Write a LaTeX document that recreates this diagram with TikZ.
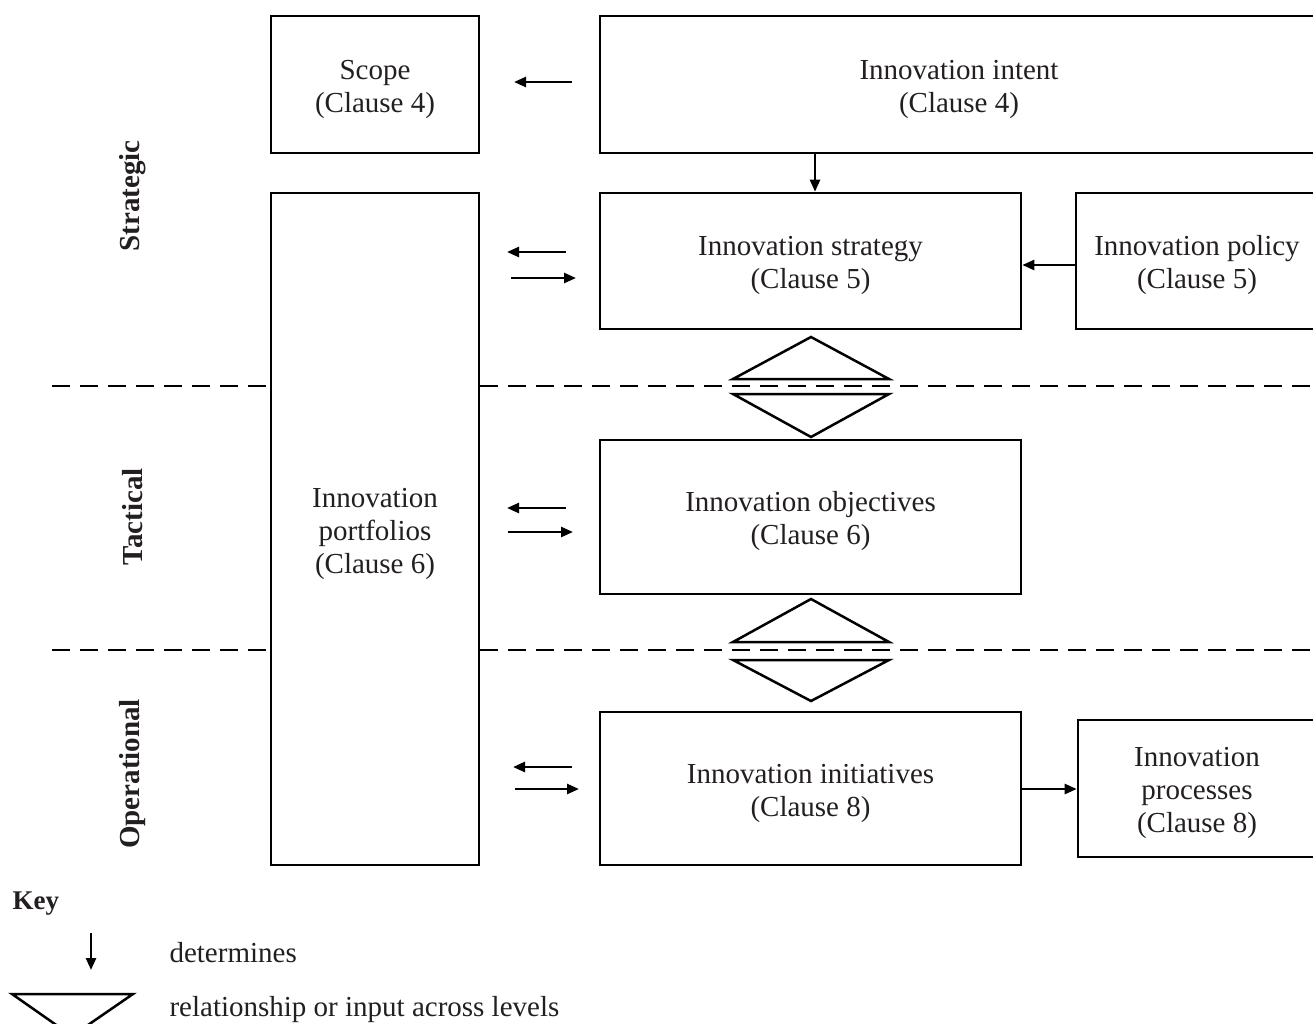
\documentclass[tikz,border=0pt]{standalone}
\usepackage{fontspec}
\setmainfont{Liberation Serif}
\usetikzlibrary{arrows.meta}
\definecolor{txt}{HTML}{231F20}
\begin{document}
\begin{tikzpicture}[x=1pt,y=-1pt,
  box/.style={draw, line width=2.6pt, inner sep=0pt},
  btext/.style={align=center, inner sep=0pt, text=txt, yshift=-4.5pt,
    font=\fontsize{29}{33}\selectfont},
  arr/.style={line width=2.5pt, -{Triangle[length=12pt,width=10pt]}},
  lev/.style={rotate=90, font=\fontsize{29}{32}\selectfont\bfseries, text=txt},
  lbl/.style={font=\fontsize{29}{33}\selectfont, text=txt, anchor=west},
  levelline/.style={line width=2.4pt, dash pattern=on 18pt off 10pt},
  tri/.style={line width=2.5pt, line join=miter}]
\useasboundingbox (0,0) rectangle (1313,1023);
\clip (0,0) rectangle (1313,1023);

% boxes
\node[box, minimum width=208pt, minimum height=137pt] (scope) at (375,84.5) {};
\node[btext] (scope-t) at (scope.center) {Scope\\(Clause 4)};
\node[box, minimum width=720pt, minimum height=137pt] (intent) at (960,84.5) {};
\node[btext] (intent-t) at (959,84.5) {Innovation intent\\(Clause 4)};
\node[box, minimum width=208pt, minimum height=672pt] (portf) at (375,529) {};
\node[btext] (portf-t) at (portf.center) {Innovation\\portfolios\\(Clause 6)};
\node[box, minimum width=421pt, minimum height=136pt] (strat) at (810.5,261) {};
\node[btext] (strat-t) at (strat.center) {Innovation strategy\\(Clause 5)};
\node[box, minimum width=242pt, minimum height=136pt] (policy) at (1197,261) {};
\node[btext] (policy-t) at (policy.center) {Innovation policy\\(Clause 5)};
\node[box, minimum width=421pt, minimum height=154pt] (obj) at (810.5,517) {};
\node[btext] (obj-t) at (obj.center) {Innovation objectives\\(Clause 6)};
\node[box, minimum width=421pt, minimum height=153pt] (init) at (810.5,788.5) {};
\node[btext] (init-t) at (init.center) {Innovation initiatives\\(Clause 8)};
\node[box, minimum width=238pt, minimum height=137pt] (proc) at (1197,788.5) {};
\node[btext] (proc-t) at (proc.center) {Innovation\\processes\\(Clause 8)};

% level labels
\node[lev] (lstrat) at (133,196) {Strategic};
\node[lev] (ltact) at (133,517) {Tactical};
\node[lev] (loper) at (133,774) {Operational};

% dashed level lines
\coordinate (d1l) at (52,386);
\coordinate (d1r) at (1313,386);
\coordinate (d2l) at (52,650);
\coordinate (d2r) at (1313,650);
\draw[levelline] (d1l) -- (portf.west |- d1l);
\draw[levelline] (portf.east |- d1r) -- (d1r);
\draw[levelline] (d2l) -- (portf.west |- d2l);
\draw[levelline] (portf.east |- d2r) -- (d2r);

% determines arrows
\coordinate (a1s) at (572,82);  \coordinate (a1e) at (514,82);
\draw[arr] (a1s) -- (a1e);
\coordinate (ix) at (815,0);
\draw[arr] (intent.south -| ix) -- (strat.north -| ix);
\coordinate (py) at (0,265);
\draw[arr] (policy.west |- py) -- (strat.east |- py);

\coordinate (b1s) at (566,252); \coordinate (b1e) at (507,252);
\coordinate (b2s) at (511,278); \coordinate (b2e) at (576,278);
\draw[arr] (b1s) -- (b1e);
\draw[arr] (b2s) -- (b2e);

\coordinate (c1s) at (566,508); \coordinate (c1e) at (507,508);
\coordinate (c2s) at (508,532); \coordinate (c2e) at (573,532);
\draw[arr] (c1s) -- (c1e);
\draw[arr] (c2s) -- (c2e);

\coordinate (e1s) at (572,767); \coordinate (e1e) at (513,767);
\coordinate (e2s) at (515,789); \coordinate (e2e) at (579,789);
\draw[arr] (e1s) -- (e1e);
\draw[arr] (e2s) -- (e2e);

\coordinate (iy) at (0,789);
\draw[arr] (init.east |- iy) -- (proc.west |- iy);

% relationship triangles
\draw[tri] (733,379) -- (811,337) -- (889,379) -- cycle;
\draw[tri] (733,394) -- (811,437) -- (889,394) -- cycle;
\draw[tri] (733,642) -- (811,599) -- (889,642) -- cycle;
\draw[tri] (733,660) -- (811,701) -- (889,660) -- cycle;

% key
\node[font=\fontsize{27}{32}\selectfont\bfseries, text=txt, anchor=west] (key) at (9,904) {Key};
\coordinate (k1s) at (91,933); \coordinate (k1e) at (91,970);
\draw[arr] (k1s) -- (k1e);
\node[lbl] (kdet) at (166,953) {determines};
\draw[tri] (12,994) -- (133,994) -- (72,1036) -- cycle;
\node[lbl] (krel) at (166,1010) {relationship or input across levels};
\end{tikzpicture}
\end{document}
